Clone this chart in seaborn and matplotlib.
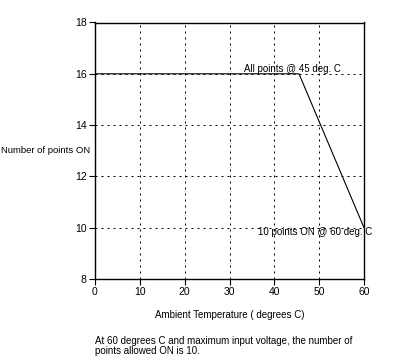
import matplotlib
matplotlib.use("Agg")
import matplotlib.pyplot as plt
import seaborn as sns
import pandas as pd

# Data
temps = [0, 45.5, 60]
points_on = [16, 16, 10]
x_ticks = [0, 10, 20, 30, 40, 50, 60]
y_ticks = [8, 10, 12, 14, 16, 18]
annot_texts = ["All points @ 45 deg. C", "10 points ON @ 60 deg. C"]
annot_x = [33.2, 36.4]
annot_y = [16.2, 9.83]
caption_lines = ["At 60 degrees C and maximum input voltage, the number of",
                 "points allowed ON is 10."]

sns.set_style("ticks")
plt.rcParams['font.family'] = ['Liberation Sans', 'DejaVu Sans']

FS = 7

fig = plt.figure(figsize=(4.05, 3.62), dpi=100)
ax = fig.add_axes([95/405, 1-279/362, (364-95)/405, (279-22.5)/362])

df = pd.DataFrame({"temp": temps, "points": points_on})

# grid
for xv in x_ticks[1:-1]:
    ax.axvline(xv, color="black", lw=0.72, linestyle=(0, (2, 4)), zorder=1)
for yv in y_ticks[1:-1]:
    ax.axhline(yv, color="black", lw=0.72, linestyle=(0, (2, 4)), zorder=1)

sns.lineplot(data=df, x="temp", y="points", color="black", linewidth=0.8, ax=ax, zorder=3)

ax.set_xlim(0, 60)
ax.set_ylim(8, 18)
ax.set_xticks(x_ticks)
ax.set_yticks(y_ticks)
ax.tick_params(axis="both", labelsize=7.5, length=4, width=0.8, color="black", pad=2, labelcolor="black")
for s in ax.spines.values():
    s.set_visible(True)
    s.set_color("black")
    s.set_linewidth(1.0)

ax.set_xlabel("Ambient Temperature ( degrees C)", fontsize=FS, color="black", va="center")
ax.xaxis.set_label_coords(0.5, -(315-279)/256.5)
ax.set_ylabel("Number of points ON", fontsize=6.8, rotation=0, ha="left", va="center", color="black")
ax.yaxis.set_label_coords(-94/269, 0.5)

for t, xx, yy in zip(annot_texts, annot_x, annot_y):
    ax.text(xx, yy, t, fontsize=FS, ha="left", va="center",
            color="black", zorder=4, clip_on=False)

for i, line in enumerate(caption_lines):
    fig.text(95/405, 1-(341+10*i)/362, line, fontsize=FS, ha="left", va="center", color="black")

fig.savefig("out.png", dpi=100)
